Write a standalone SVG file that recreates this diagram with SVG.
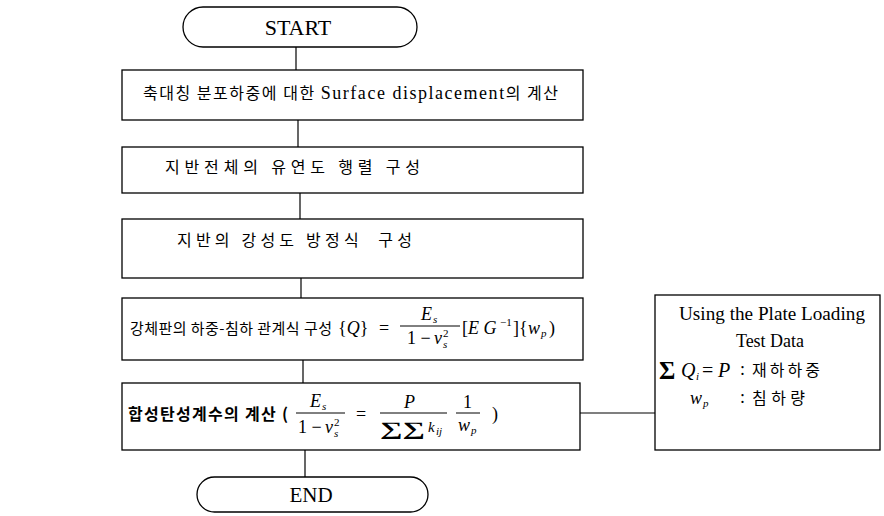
<svg xmlns="http://www.w3.org/2000/svg" width="884" height="516" viewBox="0 0 884 516">
<style>
.box{fill:#fff;stroke:#000;stroke-width:1.3}
.ln{stroke:#000;stroke-width:1.2;fill:none}
.k{font-family:"Noto Sans CJK KR","Liberation Sans",sans-serif;font-size:16px;fill:#000}
.kb{font-family:"Noto Sans CJK KR","Liberation Sans",sans-serif;font-size:16px;font-weight:bold;fill:#000}
.m{font-family:"Liberation Serif",serif;font-style:italic;font-size:18px;fill:#000}
.r{font-family:"Liberation Serif",serif;font-size:18px;fill:#000}
.s{font-family:"Liberation Serif",serif;font-style:italic;font-size:11px;fill:#000}
.sp{font-family:"Liberation Serif",serif;font-size:11px;fill:#000}
.bar{stroke:#000;stroke-width:1}
</style>
<rect width="884" height="516" fill="#fff"/>
<g id="connectors" class="ln">
<line x1="296" y1="47" x2="296" y2="70"/>
<line x1="298" y1="120" x2="298" y2="147"/>
<line x1="300" y1="193" x2="300" y2="219"/>
<line x1="301" y1="278" x2="301" y2="298"/>
<line x1="303" y1="360" x2="303" y2="383"/>
<line x1="305" y1="450" x2="305" y2="477"/>
<line x1="580" y1="413" x2="655" y2="413"/>
</g>
<g id="start">
<rect x="183" y="7" width="234" height="40" rx="20" class="box"/>
<text x="298" y="35" text-anchor="middle" class="r" style="font-size:22px">START</text>
</g>
<g id="n1">
<rect x="122" y="70" width="461" height="50" class="box"/>
<text x="143" y="99" class="k" textLength="415" lengthAdjust="spacing">축대칭 분포하중에 대한 <tspan class="r">Surface displacement</tspan>의 계산</text>
</g>
<g id="n2">
<rect x="122" y="147" width="461" height="46" class="box"/>
<text x="165" y="173" class="k" textLength="255" lengthAdjust="spacing">지반전체의 유연도 행렬 구성</text>
</g>
<g id="n3">
<rect x="122" y="219" width="461" height="59" class="box"/>
<text x="177" y="246" class="k" textLength="235" lengthAdjust="spacing" xml:space="preserve">지반의 강성도 방정식  구성</text>
</g>
<g id="n4">
<rect x="122" y="298" width="461" height="62" class="box"/>
<text x="130" y="334" class="k" style="font-size:15px" textLength="202" lengthAdjust="spacing">강체판의 하중-침하 관계식 구성</text>
<text x="338" y="334" class="r">{<tspan class="m">Q</tspan>}</text>
<text x="379" y="334" class="r">=</text>
<text x="421" y="320" class="m">E</text>
<text x="433" y="323" class="s">s</text>
<line x1="400" y1="326" x2="460" y2="326" class="bar"/>
<text x="407" y="344" class="r">1 −</text>
<text x="434" y="344" class="m">ν</text>
<text x="443" y="337" class="sp">2</text>
<text x="443" y="348" class="s">s</text>
<text x="462" y="334" class="r">[<tspan class="m">E G</tspan></text>
<text x="500" y="326" class="sp">−1</text>
<text x="513" y="334" class="r">]{</text>
<text x="528" y="334" class="m">w</text>
<text x="541" y="337" class="s">p</text>
<text x="549" y="334" class="r">)</text>
</g>
<g id="n5">
<rect x="122" y="383" width="458" height="67" class="box"/>
<text x="128" y="420" class="kb" textLength="160" lengthAdjust="spacing">합성탄성계수의 계산 (</text>
<text x="310" y="407" class="m">E</text>
<text x="322" y="410" class="s">s</text>
<line x1="296" y1="413" x2="345" y2="413" class="bar"/>
<text x="298" y="433" class="r">1 −</text>
<text x="325" y="433" class="m">ν</text>
<text x="334" y="426" class="sp">2</text>
<text x="334" y="437" class="s">s</text>
<text x="356" y="420" class="r">=</text>
<text x="404" y="408" class="m">P</text>
<line x1="380" y1="413" x2="447" y2="413" class="bar"/>
<text x="380" y="435" class="r" style="font-size:19px;font-weight:bold" textLength="45" lengthAdjust="spacingAndGlyphs">∑∑</text>
<text x="428" y="432" class="m" style="font-size:15px">k</text>
<text x="436" y="435" class="s">ij</text>
<text x="463" y="408" class="r">1</text>
<line x1="456" y1="413" x2="480" y2="413" class="bar"/>
<text x="458" y="431" class="m">w</text>
<text x="471" y="434" class="s">p</text>
<text x="492" y="420" class="r">)</text>
</g>
<g id="side">
<rect x="655" y="295" width="225" height="155" class="box"/>
<text x="772" y="320" class="r" text-anchor="middle" textLength="186" lengthAdjust="spacingAndGlyphs">Using the Plate Loading</text>
<text x="770" y="347" class="r" text-anchor="middle">Test Data</text>
<text x="659" y="379" class="r" style="font-size:25px;font-weight:bold">Σ</text>
<text x="681" y="377" class="m" style="font-size:20px">Q</text>
<text x="696" y="380" class="s">i</text>
<text x="702" y="377" class="r" style="font-size:20px">=</text>
<text x="718" y="377" class="m" style="font-size:20px">P</text>
<text x="740" y="375" class="r">:</text>
<text x="752" y="376" class="k" textLength="68" lengthAdjust="spacing">재하하중</text>
<text x="690" y="404" class="m">w</text>
<text x="703" y="407" class="s">p</text>
<text x="740" y="403" class="r">:</text>
<text x="752" y="404" class="k" textLength="53" lengthAdjust="spacing">침하량</text>
</g>
<g id="end">
<rect x="197" y="477" width="231" height="35" rx="17.5" class="box"/>
<text x="311" y="502" text-anchor="middle" class="r" style="font-size:21px">END</text>
</g>
</svg>
